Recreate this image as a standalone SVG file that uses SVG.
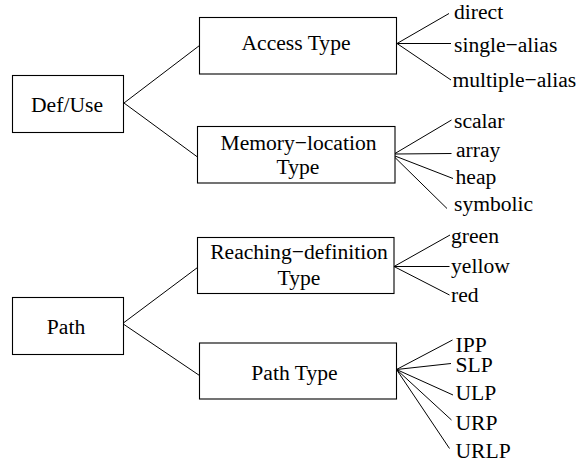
<svg xmlns="http://www.w3.org/2000/svg" width="577" height="463" viewBox="0 0 577 463">
<style>
  .box { fill: #fff; stroke: #000; stroke-width: 1.1; }
  .t { font-family: "Liberation Serif", "Times New Roman", serif; font-size: 21.6px; fill: #000; }
  .c { text-anchor: middle; }
  .edge { stroke: #000; stroke-width: 1; fill: none; }
</style>
<rect x="0" y="0" width="577" height="463" fill="#fff"/>
<g id="connectors">
  <line class="edge" x1="124" y1="103" x2="199.5" y2="45.5"/>
  <line class="edge" x1="124" y1="103" x2="197.5" y2="157"/>
  <line class="edge" x1="124" y1="322.5" x2="197.5" y2="267.5"/>
  <line class="edge" x1="124" y1="324.5" x2="199.5" y2="375.5"/>
  <line class="edge" x1="397" y1="43.5" x2="449" y2="13.5"/>
  <line class="edge" x1="397" y1="43.5" x2="451" y2="43.5"/>
  <line class="edge" x1="397" y1="43.5" x2="451" y2="80"/>
  <line class="edge" x1="395" y1="153.5" x2="451.5" y2="120"/>
  <line class="edge" x1="395" y1="154" x2="451.5" y2="153.5"/>
  <line class="edge" x1="395" y1="156" x2="453" y2="178.5"/>
  <line class="edge" x1="395" y1="157.5" x2="447" y2="208.5"/>
  <line class="edge" x1="394" y1="266.5" x2="450" y2="235"/>
  <line class="edge" x1="394" y1="266.5" x2="449.5" y2="266.5"/>
  <line class="edge" x1="394" y1="266.5" x2="449.5" y2="295"/>
  <line class="edge" x1="396.5" y1="369.5" x2="452.5" y2="340"/>
  <line class="edge" x1="396.5" y1="369.5" x2="451" y2="363.5"/>
  <line class="edge" x1="396.5" y1="369.5" x2="453" y2="395"/>
  <line class="edge" x1="396.5" y1="369.5" x2="451.5" y2="420"/>
  <line class="edge" x1="396.5" y1="369.5" x2="449.5" y2="448.5"/>
</g>
<g id="defuse">
  <rect class="box" x="12.5" y="75.5" width="111" height="57"/>
  <text class="t c" x="67" y="112.3">Def/Use</text>
</g>
<g id="path">
  <rect class="box" x="12.5" y="297.5" width="111" height="57"/>
  <text class="t c" x="66" y="334.3">Path</text>
</g>
<g id="access-type">
  <rect class="box" x="199.5" y="17.5" width="197" height="56.5"/>
  <text class="t c" x="296" y="50">Access Type</text>
</g>
<g id="memory-location-type">
  <rect class="box" x="197.5" y="126.5" width="197.5" height="56.5"/>
  <text class="t c" x="298.5" y="150">Memory−location</text>
  <text class="t c" x="298" y="174.3">Type</text>
</g>
<g id="reaching-definition-type">
  <rect class="box" x="197.5" y="237.5" width="196.5" height="56"/>
  <text class="t c" x="299" y="259.3">Reaching−definition</text>
  <text class="t c" x="299" y="285">Type</text>
</g>
<g id="path-type">
  <rect class="box" x="199.5" y="343" width="197" height="56"/>
  <text class="t c" x="294.5" y="380">Path Type</text>
</g>
<g id="leaves">
  <g id="direct"><text class="t" x="454" y="19">direct</text></g>
  <g id="single-alias"><text class="t" x="454" y="51.5">single−alias</text></g>
  <g id="multiple-alias"><text class="t" x="452.5" y="87">multiple−alias</text></g>
  <g id="scalar"><text class="t" x="454" y="128.3">scalar</text></g>
  <g id="array"><text class="t" x="456" y="156.7">array</text></g>
  <g id="heap"><text class="t" x="455.5" y="184">heap</text></g>
  <g id="symbolic"><text class="t" x="454" y="210.5">symbolic</text></g>
  <g id="green"><text class="t" x="451" y="243">green</text></g>
  <g id="yellow"><text class="t" x="451" y="273.3">yellow</text></g>
  <g id="red"><text class="t" x="451" y="302.3">red</text></g>
  <g id="ipp"><text class="t" x="455.5" y="351.7">IPP</text></g>
  <g id="slp"><text class="t" x="455.5" y="371.7">SLP</text></g>
  <g id="ulp"><text class="t" x="455.5" y="399.5">ULP</text></g>
  <g id="urp"><text class="t" x="455.5" y="430">URP</text></g>
  <g id="urlp"><text class="t" x="455.5" y="458.3">URLP</text></g>
</g>
</svg>
